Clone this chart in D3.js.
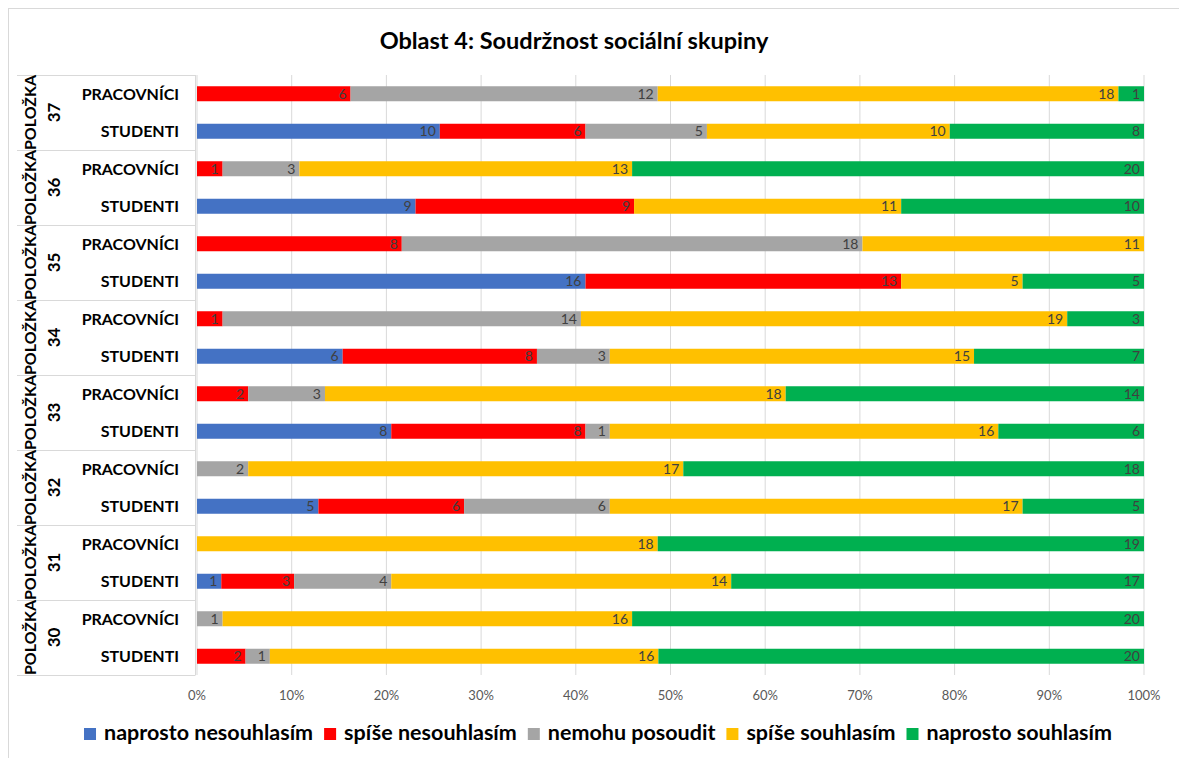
<!DOCTYPE html>
<html>
<head>
<meta charset="utf-8">
<script src="https://cdn.jsdelivr.net/npm/d3@7"></script>
<style>
  body { margin: 0; background: #fff; }
  .main { width: 1179px; height: 758px; }
</style>
</head>
<body>
<div class="main"></div>
<script>
// data, row order top to bottom: 37 P, 37 S, 36 P, 36 S, ... 30 P, 30 S
const items = ["37", "36", "35", "34", "33", "32", "31", "30"]
const groups = ["PRACOVNÍCI", "STUDENTI"]
const seriesNames = ["naprosto nesouhlasím", "spíše nesouhlasím", "nemohu posoudit", "spíše souhlasím", "naprosto souhlasím"]
const seriesColors = ["#4472C4", "#FF0000", "#A5A5A5", "#FFC000", "#00B050"]

const naprostoNesouhlasim = [0, 10, 0, 9, 0, 16, 0, 6, 0, 8, 0, 5, 0, 1, 0, 0]
const spiseNesouhlasim    = [6, 6, 1, 9, 8, 13, 1, 8, 2, 8, 0, 6, 0, 3, 0, 2]
const nemohuPosoudit      = [12, 5, 3, 0, 18, 0, 14, 3, 3, 1, 2, 6, 0, 4, 1, 1]
const spiseSouhlasim      = [18, 10, 13, 11, 11, 5, 19, 15, 18, 16, 17, 17, 18, 14, 16, 16]
const naprostoSouhlasim   = [1, 8, 20, 10, 0, 5, 3, 7, 14, 6, 18, 5, 19, 17, 20, 20]
const xTicks = [0, 0.1, 0.2, 0.3, 0.4, 0.5, 0.6, 0.7, 0.8, 0.9, 1]

const seriesValues = [naprostoNesouhlasim, spiseNesouhlasim, nemohuPosoudit, spiseSouhlasim, naprostoSouhlasim]

const rows = items.flatMap(it => groups.map(g => it + "|" + g))
const table = rows.map((key, i) => {
    const r = { key }
    seriesNames.forEach((s, j) => r[s] = seriesValues[j][i])
    return r
})

const font = "Lato, 'Open Sans', sans-serif"
const W = 1179, H = 758
const plot = { left: 197, right: 1144, top: 75, bottom: 675 }

const svg = d3.select(".main").append("svg")
    .attr("width", W).attr("height", H)
    .style("font-family", font)

// chart frame
svg.append("rect")
    .attr("x", 8.5).attr("y", 8.5)
    .attr("width", W + 20).attr("height", H + 20)
    .attr("fill", "none").attr("stroke", "#d9d9d9")

const x = d3.scaleLinear().domain([0, 1]).range([plot.left, plot.right])
const y = d3.scaleBand().domain(rows).range([plot.top, plot.bottom])
    .paddingInner(0.6).paddingOuter(0.3)

// gridlines
svg.append("g").selectAll("line")
    .data(xTicks)
    .join("line")
    .attr("x1", d => x(d)).attr("x2", d => x(d))
    .attr("y1", plot.top).attr("y2", plot.bottom)
    .attr("stroke", "#d9d9d9").attr("stroke-width", 1)

// tick labels
svg.append("g").selectAll("text")
    .data(xTicks)
    .join("text")
    .attr("x", d => x(d)).attr("y", plot.bottom + 20)
    .attr("dy", "0.35em")
    .attr("text-anchor", "middle")
    .attr("font-size", 13)
    .attr("fill", "#595959")
    .text(d => d3.format(".0%")(d))

// stacked percent bars
const stack = d3.stack().keys(seriesNames).offset(d3.stackOffsetExpand)
const stacked = stack(table)

const layers = svg.append("g").selectAll("g")
    .data(stacked)
    .join("g")
    .attr("fill", (d, i) => seriesColors[i])

layers.selectAll("rect")
    .data(d => d)
    .join("rect")
    .attr("x", d => x(d[0]))
    .attr("width", d => x(d[1]) - x(d[0]))
    .attr("y", d => y(d.data.key))
    .attr("height", y.bandwidth())

// data labels
svg.append("g").selectAll("g")
    .data(stacked)
    .join("g")
    .each(function (layer) {
        d3.select(this).selectAll("text")
            .data(layer.filter(d => d.data[layer.key] > 0))
            .join("text")
            .attr("x", d => x(d[1]) - 4)
            .attr("y", d => y(d.data.key) + y.bandwidth() / 2)
            .attr("dy", "0.36em")
            .attr("text-anchor", "end")
            .attr("font-size", 14)
            .attr("fill", "#404040")
            .text(d => d.data[layer.key])
    })

// category table on the left
const step = y.step()
const gTop = it => y(it + "|" + groups[0]) - step * 0.3
const tbl = svg.append("g")

tbl.append("line")
    .attr("x1", plot.left - 1.5).attr("x2", plot.left - 1.5)
    .attr("y1", plot.top).attr("y2", plot.bottom)
    .attr("stroke", "#d9d9d9")

tbl.selectAll("line.sep")
    .data(items.map(gTop).concat([plot.bottom]))
    .join("line")
    .attr("class", "sep")
    .attr("x1", 17).attr("x2", plot.left - 1.5)
    .attr("y1", d => Math.round(d) + 0.5).attr("y2", d => Math.round(d) + 0.5)
    .attr("stroke", "#d9d9d9")

tbl.selectAll("text.cat")
    .data(rows)
    .join("text")
    .attr("class", "cat")
    .attr("x", 179)
    .attr("y", d => y(d) + y.bandwidth() / 2)
    .attr("dy", "0.36em")
    .attr("text-anchor", "end")
    .attr("font-size", 16)
    .attr("font-weight", "bold")
    .attr("fill", "#000")
    .text(d => d.split("|")[1])

const itemLabels = tbl.selectAll("g.item")
    .data(items)
    .join("g")
    .attr("class", "item")
    .attr("transform", d => `translate(0, ${gTop(d) + step}) rotate(-90)`)

itemLabels.append("text")
    .attr("x", 0).attr("y", 36)
    .attr("text-anchor", "middle")
    .attr("font-size", 16)
    .attr("font-weight", "bold")
    .text("POLOŽKA")

itemLabels.append("text")
    .attr("x", 0).attr("y", 60)
    .attr("text-anchor", "middle")
    .attr("font-size", 17)
    .attr("font-weight", "bold")
    .text(d => d)

// title
svg.append("text")
    .attr("x", 574).attr("y", 49)
    .attr("text-anchor", "middle")
    .attr("font-size", 23.5)
    .attr("font-weight", "bold")
    .text("Oblast 4: Soudržnost sociální skupiny")

// legend
const legend = svg.append("g")
const lgItems = legend.selectAll("g")
    .data(seriesNames)
    .join("g")
lgItems.append("rect")
    .attr("width", 12).attr("height", 12)
    .attr("y", -12)
    .attr("fill", (d, i) => seriesColors[i])
lgItems.append("text")
    .attr("x", 20)
    .attr("font-size", 21.5)
    .attr("font-weight", "bold")
    .text(d => d)

let lx = 0
lgItems.each(function () {
    const w = d3.select(this).select("text").node().getComputedTextLength()
    d3.select(this).attr("transform", `translate(${lx}, 0)`)
    lx += 20 + w + 11
})
lx -= 11
legend.attr("transform", `translate(${598 - lx / 2}, 740)`)
</script>
</body>
</html>
